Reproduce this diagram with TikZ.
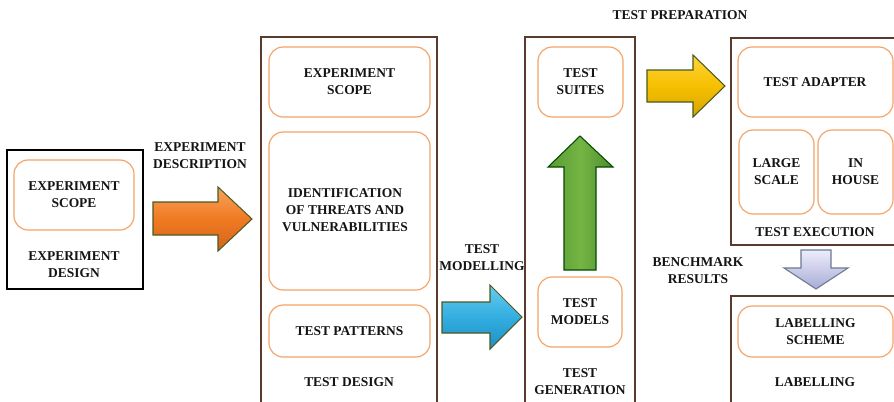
\documentclass[tikz,border=0pt]{standalone}
\usepackage{fontspec}
\setmainfont{Liberation Serif}
\usetikzlibrary{fit}
\definecolor{outerc}{HTML}{5B3A2E}
\definecolor{innerc}{HTML}{F5A468}
\definecolor{txt}{HTML}{141414}
\definecolor{arrline}{HTML}{4A5A22}
\definecolor{orT}{HTML}{F7A35C}
\definecolor{orM}{HTML}{F07A22}
\definecolor{orB}{HTML}{D2641C}
\definecolor{blT}{HTML}{66CBF0}
\definecolor{blM}{HTML}{33AEE0}
\definecolor{blB}{HTML}{1E8FC4}
\definecolor{grL}{HTML}{5A9A32}
\definecolor{grM}{HTML}{74B545}
\definecolor{grR}{HTML}{4F8C2B}
\definecolor{yeT}{HTML}{FFD43A}
\definecolor{yeM}{HTML}{F5C000}
\definecolor{yeB}{HTML}{D9A300}
\definecolor{laT}{HTML}{EDEDFB}
\definecolor{laB}{HTML}{A8ABD6}
\definecolor{laL}{HTML}{6B7A8E}
\tikzset{
  outerbox/.style={draw=outerc, line width=1pt, inner sep=0pt, fill=white},
  leftbox/.style={draw=black, line width=0.9pt, inner sep=0pt, fill=white},
  innerbox/.style={draw=innerc, line width=1pt, rounded corners=12pt, inner sep=0pt},
  lbl/.style={text=txt, font=\bfseries\fontsize{11.5}{14.5}\selectfont, align=center, inner sep=0pt},
  blockarrow/.style={draw=arrline, line width=0.9pt, line join=miter}
}
\begin{document}
\begin{tikzpicture}[x=0.3mm, y=-0.3mm]
\useasboundingbox (0,0) rectangle (894,401);
\clip (0,0) rectangle (894,401);
\fill[white] (0,0) rectangle (894,401);

% Experiment design box
\node[leftbox, fit={(7,150)(143,289)}] (ed) {};
\node[innerbox, fit={(14,160)(134,230)}] (es1) {};
\node[lbl] (es1t) at (es1.center) {EXPERIMENT\\SCOPE};
\node[lbl] (edt) at (74,265) {EXPERIMENT\\DESIGN};

\node[lbl] (edesc) at (200,156) {EXPERIMENT\\DESCRIPTION};
\shade[blockarrow, top color=orT, bottom color=orB, middle color=orM]
  (153,202) -- (218,202) -- (218,187) -- (252,219) -- (218,251) -- (218,235) -- (153,235) -- cycle;

% Test design box
\node[outerbox, fit={(261,37)(437,420)}] (td) {};
\node[innerbox, fit={(269,47)(430,117)}] (es2) {};
\node[lbl] (es2t) at (es2.center) {EXPERIMENT\\SCOPE};
\node[innerbox, fit={(269,132)(430,290)}] (itv) {};
\node[lbl] (itvt) at (345,210) {IDENTIFICATION\\OF THREATS AND\\VULNERABILITIES};
\node[innerbox, fit={(269,305)(430,357)}] (tp) {};
\node[lbl] (tpt) at (tp.center) {TEST PATTERNS};
\node[lbl] (tdt) at (349,382) {TEST DESIGN};

\node[lbl] (tmod) at (482,258) {TEST\\MODELLING};
\shade[blockarrow, top color=blT, bottom color=blB, middle color=blM]
  (442,302) -- (490,302) -- (490,285) -- (522,317) -- (490,349) -- (490,333) -- (442,333) -- cycle;

% Test generation box
\node[outerbox, fit={(525,37)(635,420)}] (tg) {};
\node[innerbox, fit={(538,47)(623,117)}] (ts) {};
\node[lbl] (tst) at (ts.center) {TEST\\SUITES};
\node[innerbox, fit={(538,277)(622,347)}] (tm) {};
\node[lbl] (tmt) at (tm.center) {TEST\\MODELS};
\node[lbl] (tgt) at (580,382) {TEST\\GENERATION};
\shade[blockarrow, draw=green!30!black, left color=grL, right color=grR, middle color=grM]
  (564,270) -- (564,167) -- (548,167) -- (580,136) -- (613,167) -- (596,167) -- (596,270) -- cycle;

\node[lbl] (tprep) at (680,15) {TEST PREPARATION};
\shade[blockarrow, top color=yeT, bottom color=yeB, middle color=yeM]
  (647,70) -- (693,70) -- (693,55) -- (725,86) -- (693,117) -- (693,102) -- (647,102) -- cycle;

% Test execution box
\node[outerbox, fit={(731,38)(905,245)}] (te) {};
\node[innerbox, fit={(738,47)(893,117)}] (ta) {};
\node[lbl] (tat) at (815,82) {TEST ADAPTER};
\node[innerbox, fit={(739,130)(814,214)}] (ls) {};
\node[lbl] (lst) at (ls.center) {LARGE\\SCALE};
\node[innerbox, fit={(818,130)(893,214)}] (ih) {};
\node[lbl] (iht) at (ih.center) {IN\\HOUSE};
\node[lbl] (tet) at (815,232) {TEST EXECUTION};

\node[lbl] (bench) at (698,271) {BENCHMARK\\RESULTS};
\shade[blockarrow, draw=laL, top color=laT, bottom color=laB]
  (801,250) -- (831,250) -- (831,268) -- (848,268) -- (816,289) -- (784,268) -- (801,268) -- cycle;

% Labelling box
\node[outerbox, fit={(731,296)(905,420)}] (lb) {};
\node[innerbox, fit={(738,306)(893,357)}] (lsch) {};
\node[lbl] (lscht) at (lsch.center) {LABELLING\\SCHEME};
\node[lbl] (lbt) at (815,382) {LABELLING};
\end{tikzpicture}
\end{document}
